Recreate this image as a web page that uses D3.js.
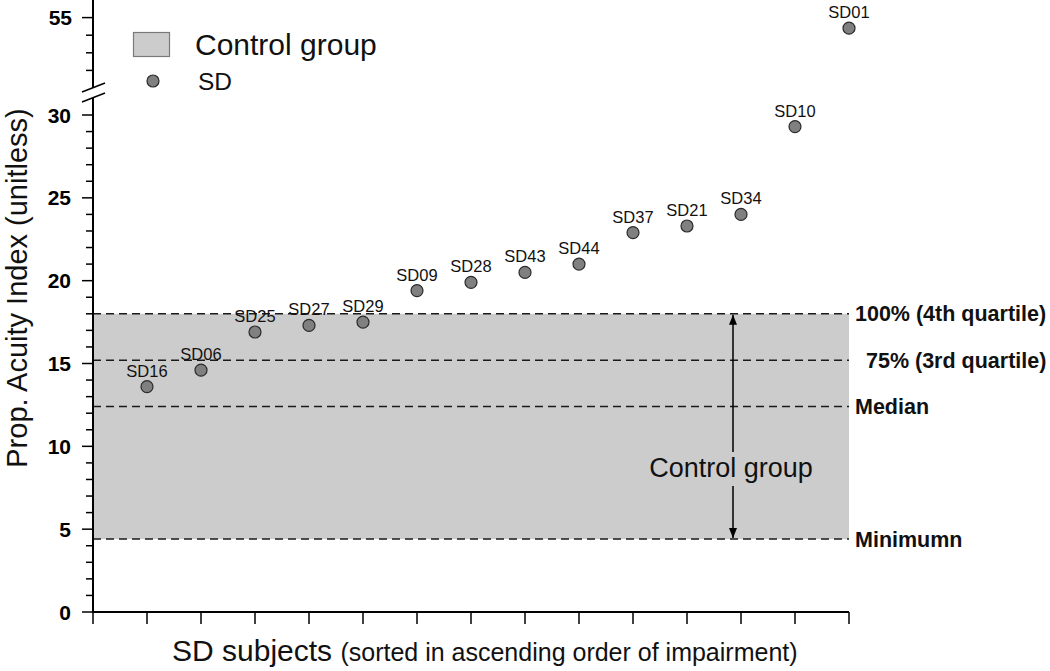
<!DOCTYPE html>
<html>
<head>
<meta charset="utf-8">
<script src="https://cdn.jsdelivr.net/npm/d3@7"></script>
<style>
  html, body { margin: 0; padding: 0; background: #fff; }
  svg { display: block; font-family: "Liberation Sans", Arial, sans-serif; }
</style>
</head>
<body>
<svg id="chart" width="1050" height="671"></svg>
<script>
// ---- Data ----
const subjects = ["SD16","SD06","SD25","SD27","SD29","SD09","SD28","SD43","SD44","SD37","SD21","SD34","SD10","SD01"];
const acuity   = [13.6, 14.6, 16.9, 17.3, 17.5, 19.4, 19.9, 20.5, 21.0, 22.9, 23.3, 24.0, 29.3, 54.4];
const controlLevels = [18.0, 15.2, 12.4, 4.4];
const controlLabels = ["100% (4th quartile)", " 75% (3rd quartile)", "Median", "Minimumn"];
const lowerTicks = [0, 5, 10, 15, 20, 25, 30];
const upperTicks = [55];

// ---- Layout ----
const svg = d3.select("#chart");
const x0 = 93, x1 = 849;
const x = d3.scaleLinear().domain([0, subjects.length]).range([x0, x1]);
const yLow = d3.scaleLinear().domain([0, 30]).range([612, 115]);
const yUp = d3.scaleLinear().domain([51, 56]).range([88, 0]);
const yv = v => v > 40 ? yUp(v) : yLow(v);

// control band
svg.append("rect")
  .attr("x", x0).attr("y", yLow(controlLevels[0]))
  .attr("width", x1 - x0)
  .attr("height", yLow(controlLevels[3]) - yLow(controlLevels[0]))
  .attr("fill", "#cccccc");

// dashed lines
svg.selectAll("line.ctl").data(controlLevels).enter().append("line")
  .attr("x1", x0).attr("x2", x1)
  .attr("y1", d => yLow(d)).attr("y2", d => yLow(d))
  .attr("stroke", "#1a1a1a").attr("stroke-width", 1.5)
  .attr("stroke-dasharray", "8,5");

// right labels
svg.selectAll("text.ctl").data(controlLevels).enter().append("text")
  .attr("x", 855).attr("y", d => yLow(d) + 7.5)
  .attr("font-size", 21.5).attr("font-weight", "bold")
  .attr("fill", "#111")
  .text((d, i) => controlLabels[i].trim())
  .attr("dx", (d, i) => controlLabels[i].startsWith(" ") ? 11 : 0);

// arrow
const ax = 733;
const defs = svg.append("defs");
defs.append("marker").attr("id", "ah").attr("viewBox", "0 0 10 10")
  .attr("refX", 10).attr("refY", 5).attr("markerWidth", 10).attr("markerHeight", 10)
  .attr("markerUnits", "userSpaceOnUse")
  .attr("orient", "auto")
  .append("path").attr("d", "M0,1 L10,5 L0,9 Z").attr("fill", "#000");
svg.append("line").attr("x1", ax).attr("x2", ax)
  .attr("y1", 452).attr("y2", yLow(controlLevels[0]) + 1)
  .attr("stroke", "#000").attr("stroke-width", 1.5).attr("marker-end", "url(#ah)");
svg.append("line").attr("x1", ax).attr("x2", ax)
  .attr("y1", 486).attr("y2", yLow(controlLevels[3]) - 1)
  .attr("stroke", "#000").attr("stroke-width", 1.5).attr("marker-end", "url(#ah)");
svg.append("text").attr("x", 731).attr("y", 477)
  .attr("text-anchor", "middle").attr("font-size", 27).attr("fill", "#111")
  .text("Control group");

// axes lines
const axisG = svg.append("g").attr("stroke", "#000").attr("stroke-width", 2);
axisG.append("line").attr("x1", x0).attr("x2", x0).attr("y1", 0).attr("y2", 88);
axisG.append("line").attr("x1", x0).attr("x2", x0).attr("y1", 98).attr("y2", 613);
axisG.append("line").attr("x1", x0 - 1).attr("x2", x1).attr("y1", 612).attr("y2", 612);

// break marks
axisG.append("line").attr("x1", 82).attr("y1", 92).attr("x2", 105).attr("y2", 83).attr("stroke-width", 1.5);
axisG.append("line").attr("x1", 82).attr("y1", 102).attr("x2", 105).attr("y2", 93).attr("stroke-width", 1.5);

// y ticks lower
const lowMinor = d3.range(0, 31);
axisG.selectAll("line.ylt").data(lowMinor).enter().append("line")
  .attr("x1", d => d % 5 === 0 ? x0 - 11 : x0 - 7).attr("x2", x0)
  .attr("y1", d => yLow(d)).attr("y2", d => yLow(d)).attr("stroke-width", 1.5);
const upMinor = d3.range(52, 56);
axisG.selectAll("line.yut").data(upMinor).enter().append("line")
  .attr("x1", d => upperTicks.includes(d) ? x0 - 11 : x0 - 7).attr("x2", x0)
  .attr("y1", d => yUp(d)).attr("y2", d => yUp(d)).attr("stroke-width", 1.5);

// y tick labels
svg.selectAll("text.yl").data(lowerTicks).enter().append("text")
  .attr("x", 71).attr("y", d => yLow(d) + 7.5)
  .attr("text-anchor", "end").attr("font-size", 21).attr("font-weight", "bold")
  .text(d => d);
svg.selectAll("text.yu").data(upperTicks).enter().append("text")
  .attr("x", 72).attr("y", d => yUp(d) + 7.5)
  .attr("text-anchor", "end").attr("font-size", 21).attr("font-weight", "bold")
  .text(d => d);

// x ticks
axisG.selectAll("line.xt").data(d3.range(0, subjects.length + 1)).enter().append("line")
  .attr("x1", d => x(d)).attr("x2", d => x(d))
  .attr("y1", 612).attr("y2", 624).attr("stroke-width", 1.5);

// points
const pts = subjects.map((s, i) => ({ s, v: acuity[i], i: i + 1 }));
svg.selectAll("circle.pt").data(pts).enter().append("circle")
  .attr("cx", d => x(d.i)).attr("cy", d => yv(d.v)).attr("r", 6)
  .attr("fill", "#808080").attr("stroke", "#2a2a2a").attr("stroke-width", 1.2);
svg.selectAll("text.pt").data(pts).enter().append("text")
  .attr("x", d => x(d.i)).attr("y", d => yv(d.v) - 10)
  .attr("text-anchor", "middle").attr("font-size", 16.5).attr("fill", "#111")
  .text(d => d.s);

// legend
svg.append("rect").attr("x", 133.5).attr("y", 32.5).attr("width", 36).attr("height", 24)
  .attr("fill", "#cccccc").attr("stroke", "#7a7a7a").attr("stroke-width", 1.2);
svg.append("text").attr("x", 195).attr("y", 55).attr("font-size", 30).attr("fill", "#111").text("Control group");
svg.append("circle").attr("cx", 153).attr("cy", 81).attr("r", 6)
  .attr("fill", "#808080").attr("stroke", "#2a2a2a").attr("stroke-width", 1.2);
svg.append("text").attr("x", 198).attr("y", 90).attr("font-size", 24.5).attr("fill", "#111").text("SD");

// axis titles
svg.append("text").attr("transform", "translate(27,288) rotate(-90)")
  .attr("text-anchor", "middle").attr("font-size", 29).attr("fill", "#111")
  .text("Prop. Acuity Index (unitless)");
const xt = svg.append("text").attr("x", 172).attr("y", 661).attr("fill", "#111");
xt.append("tspan").attr("font-size", 30).text("SD subjects ");
xt.append("tspan").attr("font-size", 25).text("(sorted in ascending order of impairment)");
</script>
</body>
</html>
